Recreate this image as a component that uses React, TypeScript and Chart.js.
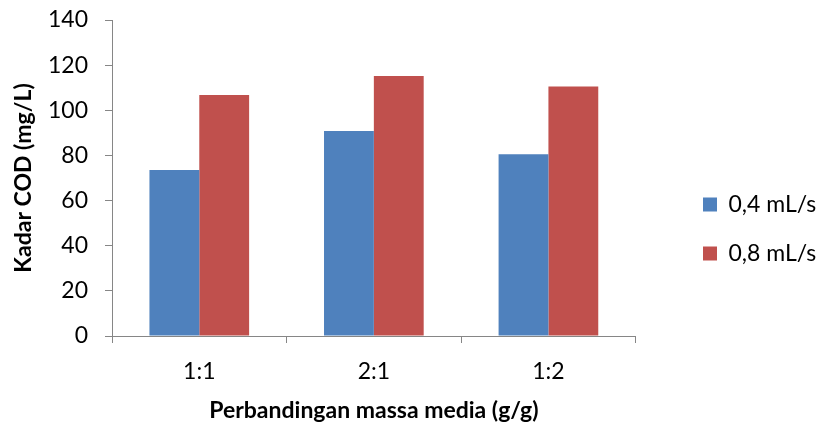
import React, { useEffect, useRef } from "react";
import { Chart, registerables } from "chart.js";

Chart.register(...registerables);

const categories = ["1:1", "2:1", "1:2"];
const series1Label = "0,4 mL/s";
const series2Label = "0,8 mL/s";
const series1Values = [73.5, 90.8, 80.5];
const series2Values = [106.8, 115.2, 110.5];
const yTicks = [0, 20, 40, 60, 80, 100, 120, 140];

const FONT = "Lato, 'Open Sans', sans-serif";
const AXIS = "#868686";

export default function App() {
  const ref = useRef<HTMLCanvasElement | null>(null);
  useEffect(() => {
    if (!ref.current) return;
    const legendShift = {
      id: "legendShift",
      afterLayout(chart: any) {
        const lg = chart.legend;
        if (!lg) return;
        lg.left = 677;
        lg.right = 820;
        lg.top = 167;
        lg.bottom = 423;
      },
    };
    const chart = new Chart(ref.current, {
      type: "bar",
      data: {
        labels: categories,
        datasets: [
          {
            label: series1Label,
            data: series1Values,
            backgroundColor: "#4F81BD",
            categoryPercentage: 0.571,
            barPercentage: 1,
          },
          {
            label: series2Label,
            data: series2Values,
            backgroundColor: "#C0504D",
            categoryPercentage: 0.571,
            barPercentage: 1,
          },
        ],
      },
      options: {
        responsive: false,
        animation: false,
        layout: { padding: { left: 0, top: 20, right: 35, bottom: 0 } },
        plugins: {
          tooltip: { enabled: false },
          legend: {
            position: "right",
            align: "start",
            labels: {
              boxWidth: 14,
              boxHeight: 14,
              padding: 26,
              color: "#000",
              font: { family: FONT, size: 23 },
            },
          },
        },
        scales: {
          x: {
            grid: {
              display: true,
              drawOnChartArea: false,
              offset: true,
              tickLength: 7,
              color: AXIS,
            },
            border: { color: AXIS, width: 1 },
            ticks: {
              color: "#000",
              padding: 15,
              font: { family: FONT, size: 23 },
            },
            title: {
              display: true,
              text: "Perbandingan massa media (g/g)",
              color: "#000",
              font: { family: FONT, size: 23, weight: "bold" },
              padding: { top: 0, bottom: -1 },
            },
            afterFit(scale: any) {
              scale.height = 87;
              scale.paddingLeft = 0;
              scale.paddingRight = 0;
            },
          },
          y: {
            min: 0,
            max: 140,
            afterBuildTicks(scale: any) {
              scale.ticks = yTicks.map((v) => ({ value: v }));
            },
            grid: {
              display: true,
              drawOnChartArea: false,
              tickLength: 7,
              color: AXIS,
            },
            border: { color: AXIS, width: 1 },
            ticks: {
              color: "#000",
              padding: 17,
              font: { family: FONT, size: 23 },
            },
            title: {
              display: true,
              text: "Kadar COD (mg/L)",
              color: "#000",
              font: { family: FONT, size: 23, weight: "bold" },
              padding: { top: 10, bottom: 0 },
            },
            afterFit(scale: any) {
              scale.width = 112;
              scale.paddingTop = 0;
              scale.paddingBottom = 0;
            },
          },
        },
      },
      plugins: [legendShift],
    });
    return () => chart.destroy();
  }, []);
  return (
    <div style={{ position: "absolute", left: 0, top: 0, width: 820, height: 423, background: "#fff" }}>
      <canvas ref={ref} width={820} height={423} />
    </div>
  );
}
